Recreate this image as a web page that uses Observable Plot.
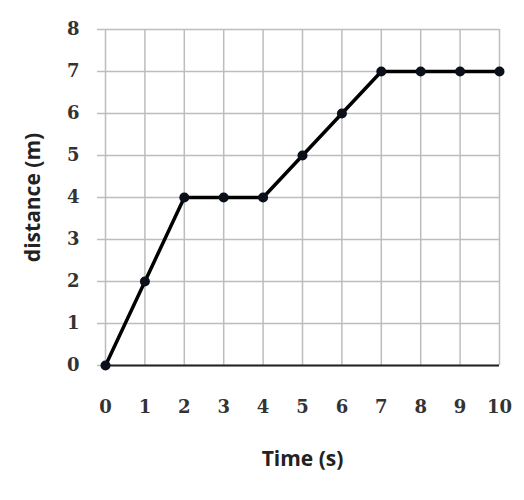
<!DOCTYPE html>
<html><head><meta charset="utf-8">
<script src="https://cdn.jsdelivr.net/npm/d3@7"></script>
<script src="https://cdn.jsdelivr.net/npm/@observablehq/plot@0.6"></script>
<style>body{margin:0;background:#fff}</style>
</head><body><div id="chart"></div>
<script>
const time = [0, 1, 2, 3, 4, 5, 6, 7, 8, 9, 10];
const distance = [0, 2, 4, 4, 4, 5, 6, 7, 7, 7, 7];
const xTicks = [0, 1, 2, 3, 4, 5, 6, 7, 8, 9, 10];
const yTicks = [0, 1, 2, 3, 4, 5, 6, 7, 8];
const xTitle = "Time (s)";
const yTitle = "distance (m)";

const data = time.map((t, i) => ({t, d: distance[i]}));
const tickFont = "DejaVu Serif";
const titleFont = "Open Sans";

const chart = Plot.plot({
  width: 524, height: 500,
  marginLeft: 105, marginRight: 25, marginTop: 29, marginBottom: 135,
  x: {domain: [0, 10]},
  y: {domain: [0, 8]},
  style: {background: "white", fontSize: "18px", fontFamily: tickFont},
  marks: [
    Plot.gridX(xTicks, {stroke: "#bdbdbd", strokeOpacity: 1, strokeWidth: 1.5}),
    Plot.gridY(yTicks, {stroke: "#bdbdbd", strokeOpacity: 1, strokeWidth: 1.5}),
    Plot.axisY(yTicks, {tickSize: 8, stroke: "#bdbdbd", strokeWidth: 1.5, tickPadding: 18, fill: "#333",
      fontSize: 18, fontFamily: tickFont, fontWeight: "bold", label: null}),
    Plot.axisX(xTicks, {tickSize: 0, tickPadding: 35, fill: "#333",
      fontSize: 18, fontFamily: tickFont, fontWeight: "bold", label: null}),
    Plot.ruleY([0], {stroke: "#222", strokeWidth: 2}),
    Plot.line(data, {x: "t", y: "d", stroke: "black", strokeWidth: 3.5}),
    Plot.dot(data, {x: "t", y: "d", r: 5, fill: "#0a0f1a", stroke: "none"}),
    Plot.text([xTitle], {frameAnchor: "bottom", dy: 94, textAnchor: "middle", lineAnchor: "middle",
      fontSize: 21, fontWeight: "bold", fontFamily: titleFont, fill: "#222"}),
    Plot.text([yTitle], {frameAnchor: "left", dx: -72, rotate: -90, textAnchor: "middle", lineAnchor: "middle",
      fontSize: 21, fontWeight: "bold", fontFamily: titleFont, fill: "#222"})
  ]
});
d3.select(chart).selectAll('g[aria-label$="tick label"]')
  .style("font-size", "18px").style("font-family", tickFont).style("font-weight", "bold");
document.getElementById("chart").append(chart);
</script>
</body></html>
